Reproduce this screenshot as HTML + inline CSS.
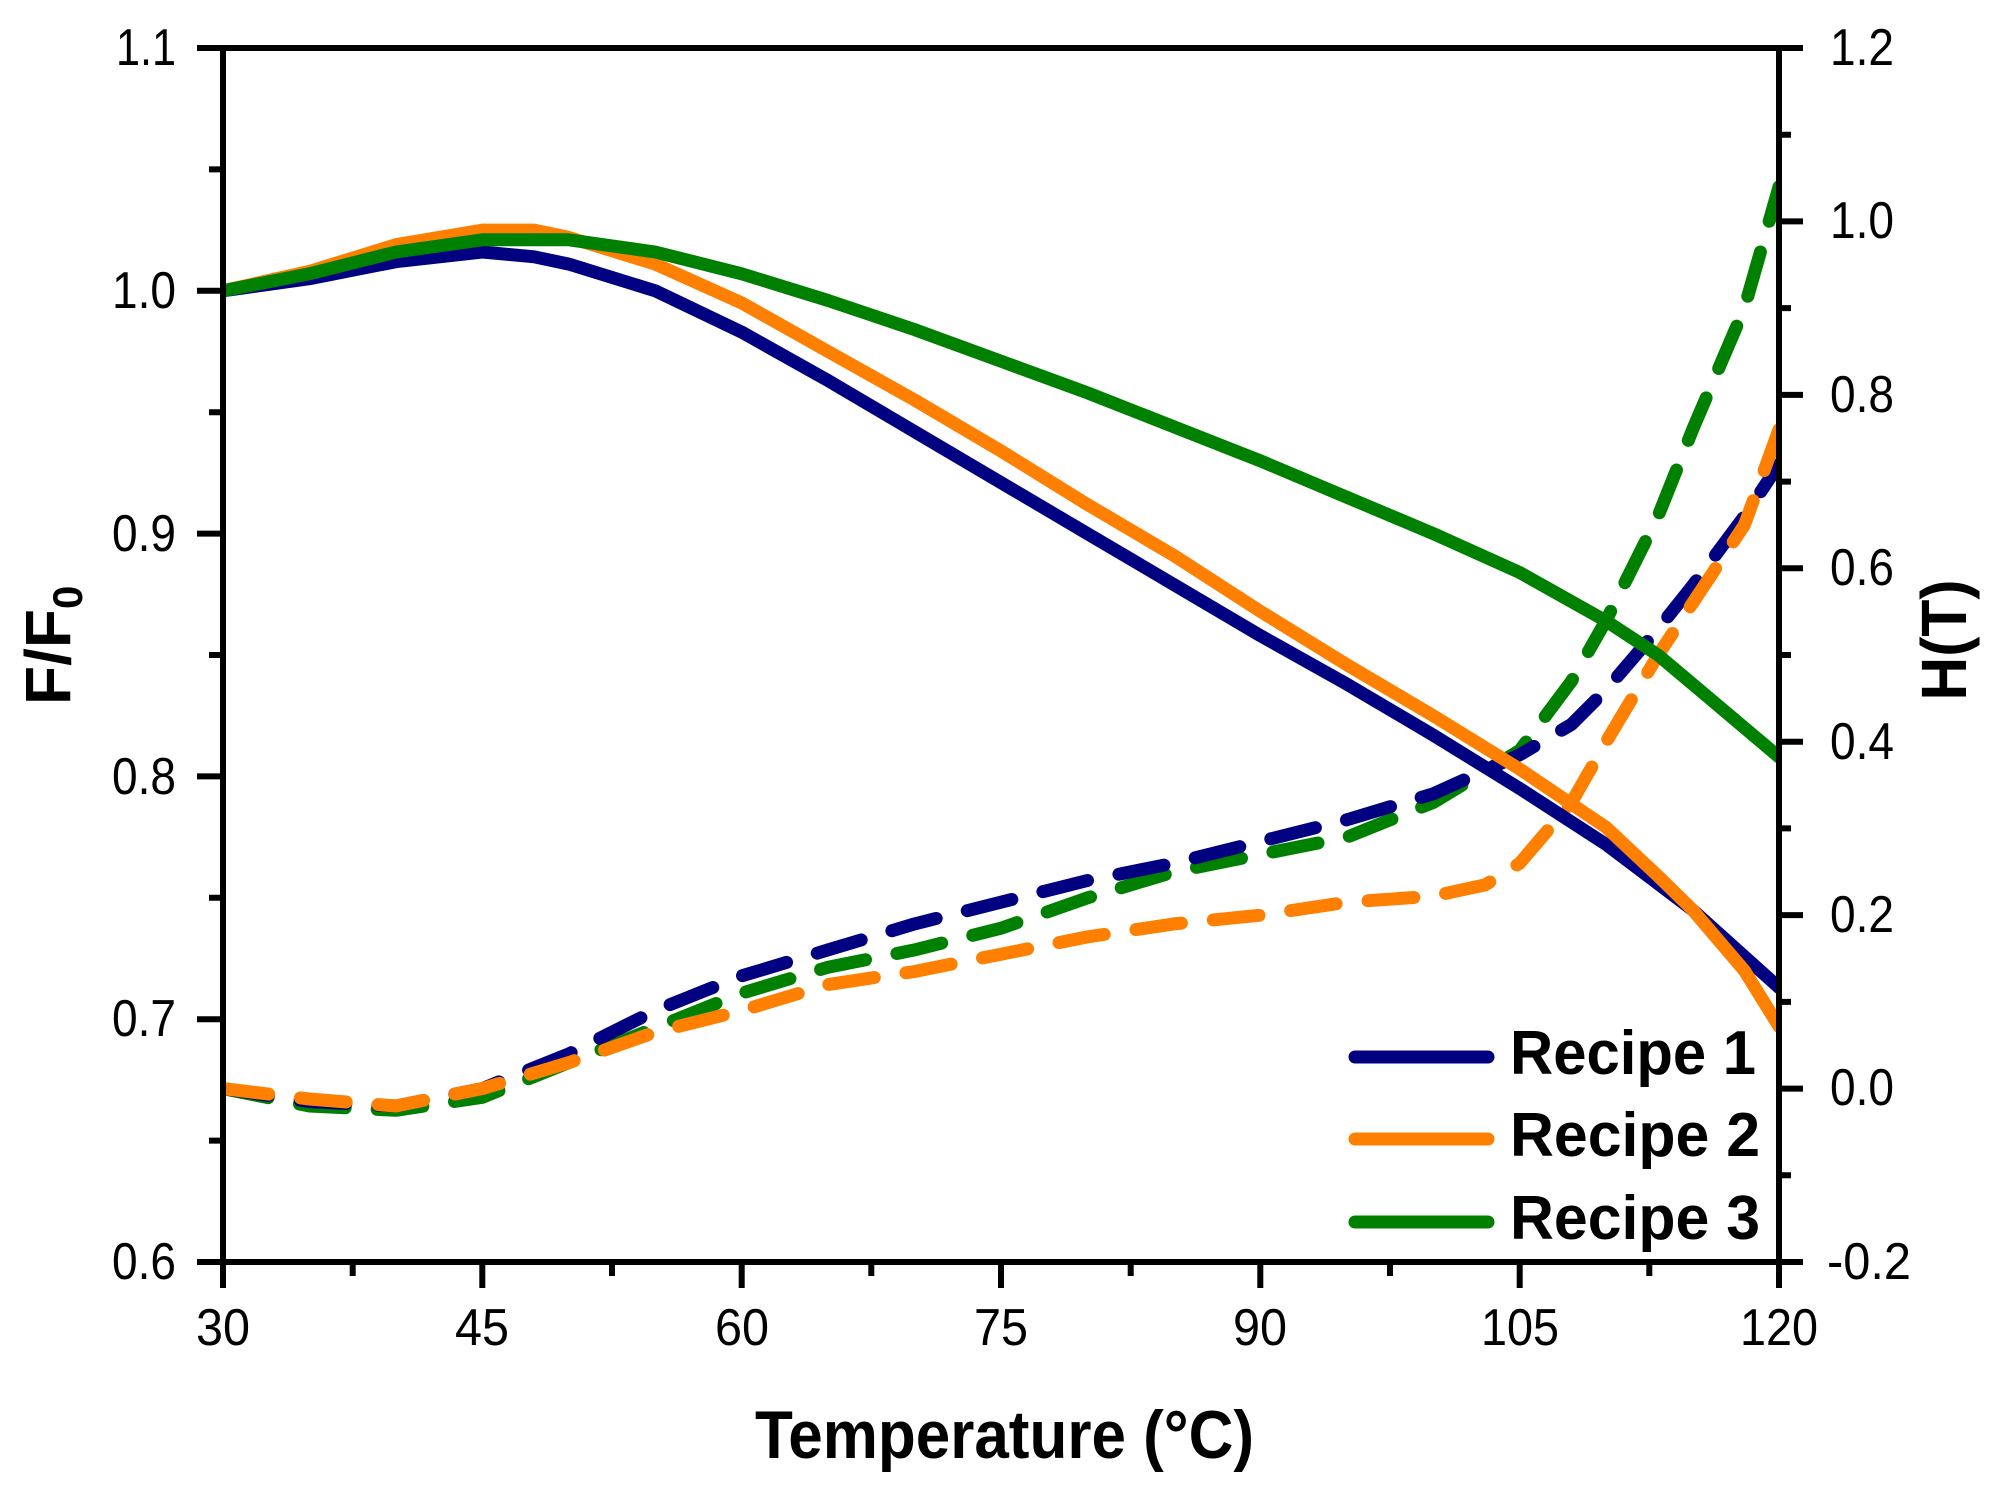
<!DOCTYPE html>
<html><head><meta charset="utf-8"><style>html,body{margin:0;padding:0;background:#fff;}svg{display:block;}</style></head>
<body>
<svg xmlns="http://www.w3.org/2000/svg" width="1997" height="1488" viewBox="0 0 1997 1488" font-family="Liberation Sans, Arial, sans-serif">
<rect width="1997" height="1488" fill="#fff"/>
<defs><clipPath id="c"><rect x="223" y="48" width="1556" height="1214"/></clipPath></defs>
<g clip-path="url(#c)" fill="none" stroke-linecap="round" stroke-linejoin="round" stroke-width="13">
<g stroke-dasharray="46 32">
<polyline stroke="#008000" points="223,1088.6 309.4,1106 395.9,1110.3 482.3,1097.3 568.8,1062.6 655.2,1027.9 741.7,993.2 828.1,967.2 914.6,949.9 1001,928.2 1087.4,897.9 1173.9,871.9 1260.3,854.5 1346.8,837.2 1433.2,802.5 1519.7,750.5 1571.5,681.1 1606.1,620.4 1658,516.3 1692.6,429.6 1744.4,308.2 1779,186.8"/>
<polyline stroke="#000080" points="223,1088.6 309.4,1101.6 395.9,1106 482.3,1088.6 568.8,1053.9 655.2,1010.6 741.7,975.9 828.1,949.9 914.6,923.9 1001,902.2 1087.4,880.5 1173.9,863.2 1260.3,841.5 1346.8,819.8 1433.2,793.8 1519.7,754.8 1571.5,724.4 1606.1,689.7 1658,629.1 1692.6,585.7 1744.4,516.3 1779,464.3"/>
<polyline stroke="#ff8000" points="223,1088.6 309.4,1099 395.9,1106 482.3,1088.6 568.8,1062.6 655.2,1032.2 741.7,1010.6 828.1,984.5 914.6,971.5 1001,954.2 1087.4,936.9 1173.9,923.9 1260.3,915.2 1346.8,902.2 1433.2,896.1 1485.1,884.9 1519.7,863.2 1571.5,802.5 1606.1,741.9 1658,655.2 1692.6,603.1 1744.4,525 1779,429.6"/>
</g>
<polyline stroke="#000080" points="223,290.8 309.4,278.7 395.9,261.7 482.3,252 534.2,256.8 568.8,264.1 655.2,290.8 741.7,332.1 828.1,380.6 914.6,431.6 1001,482.6 1087.4,533.6 1173.9,584.6 1260.3,635.6 1346.8,684.1 1433.2,735.1 1519.7,788.5 1606.1,844.4 1692.6,909.9 1779,987.6"/>
<polyline stroke="#ff8000" points="223,290.8 309.4,271.4 395.9,244.7 482.3,230.1 534.2,230.1 568.8,237.4 655.2,264.1 741.7,302.9 828.1,351.5 914.6,400 1001,451 1087.4,504.5 1173.9,555.5 1260.3,611.3 1346.8,664.7 1433.2,715.7 1519.7,769.1 1606.1,827.4 1658,876 1692.6,909.9 1744.4,970.6 1779,1026.5"/>
<polyline stroke="#008000" points="223,290.8 309.4,273.8 395.9,252 482.3,239.8 568.8,239.8 655.2,252 741.7,273.8 828.1,300.5 914.6,329.6 1001,361.2 1087.4,392.8 1173.9,426.8 1260.3,460.8 1346.8,497.2 1433.2,533.6 1519.7,572.5 1606.1,621 1658,655 1709.9,698.7 1779,757"/>
</g>
<rect x="223" y="48" width="1556" height="1214" stroke="#000" stroke-width="6" fill="none"/>
<g stroke="#000" stroke-width="6">
<path d="M223,1262v26M482.3,1262v26M741.7,1262v26M1001,1262v26M1260.3,1262v26M1519.7,1262v26M1779,1262v26M352.7,1262v14M612,1262v14M871.3,1262v14M1130.7,1262v14M1390,1262v14M1649.3,1262v14"/>
<path d="M223,1262h-26M223,1019.2h-26M223,776.4h-26M223,533.6h-26M223,290.8h-26M223,48h-26M223,1140.6h-14M223,897.8h-14M223,655h-14M223,412.2h-14M223,169.4h-14"/>
<path d="M1779,1262h24M1779,1088.6h24M1779,915.1h24M1779,741.7h24M1779,568.3h24M1779,394.9h24M1779,221.4h24M1779,48h24M1779,1175.3h12M1779,1001.9h12M1779,828.4h12M1779,655h12M1779,481.6h12M1779,308.1h12M1779,134.7h12"/>
</g>
<g font-size="52" fill="#000">
<text x="176" y="65" text-anchor="end" textLength="60" lengthAdjust="spacingAndGlyphs">1.1</text>
<text x="176" y="308" text-anchor="end" textLength="64" lengthAdjust="spacingAndGlyphs">1.0</text>
<text x="176" y="551" text-anchor="end" textLength="64" lengthAdjust="spacingAndGlyphs">0.9</text>
<text x="176" y="794" text-anchor="end" textLength="64" lengthAdjust="spacingAndGlyphs">0.8</text>
<text x="176" y="1036" text-anchor="end" textLength="64" lengthAdjust="spacingAndGlyphs">0.7</text>
<text x="176" y="1279" text-anchor="end" textLength="64" lengthAdjust="spacingAndGlyphs">0.6</text>
<text x="1830" y="65" textLength="64" lengthAdjust="spacingAndGlyphs">1.2</text>
<text x="1830" y="238" textLength="64" lengthAdjust="spacingAndGlyphs">1.0</text>
<text x="1830" y="412" textLength="64" lengthAdjust="spacingAndGlyphs">0.8</text>
<text x="1830" y="585" textLength="64" lengthAdjust="spacingAndGlyphs">0.6</text>
<text x="1830" y="759" textLength="64" lengthAdjust="spacingAndGlyphs">0.4</text>
<text x="1830" y="932" textLength="64" lengthAdjust="spacingAndGlyphs">0.2</text>
<text x="1830" y="1105" textLength="64" lengthAdjust="spacingAndGlyphs">0.0</text>
<text x="1827" y="1279" textLength="84" lengthAdjust="spacingAndGlyphs">-0.2</text>
<text x="223" y="1345" text-anchor="middle" textLength="54" lengthAdjust="spacingAndGlyphs">30</text>
<text x="482" y="1345" text-anchor="middle" textLength="54" lengthAdjust="spacingAndGlyphs">45</text>
<text x="742" y="1345" text-anchor="middle" textLength="54" lengthAdjust="spacingAndGlyphs">60</text>
<text x="1001" y="1345" text-anchor="middle" textLength="54" lengthAdjust="spacingAndGlyphs">75</text>
<text x="1260" y="1345" text-anchor="middle" textLength="54" lengthAdjust="spacingAndGlyphs">90</text>
<text x="1520" y="1345" text-anchor="middle" textLength="78" lengthAdjust="spacingAndGlyphs">105</text>
<text x="1779" y="1345" text-anchor="middle" textLength="78" lengthAdjust="spacingAndGlyphs">120</text>
</g>
<text x="755" y="1458" font-size="68" font-weight="bold" textLength="499" lengthAdjust="spacingAndGlyphs">Temperature (°C)</text>
<text transform="translate(70,705) rotate(-90)" font-size="64" font-weight="bold">F/F<tspan font-size="42" dy="12">0</tspan></text>
<text transform="translate(1966,640) rotate(-90)" text-anchor="middle" font-size="64" font-weight="bold" textLength="121" lengthAdjust="spacingAndGlyphs">H(T)</text>
<g stroke-width="13" stroke-linecap="round">
<line x1="1355" y1="1057" x2="1488" y2="1057" stroke="#000080"/>
<line x1="1355" y1="1139" x2="1488" y2="1139" stroke="#ff8000"/>
<line x1="1355" y1="1222" x2="1488" y2="1222" stroke="#008000"/>
</g>
<g font-size="62" font-weight="bold">
<text x="1510" y="1074" textLength="246" lengthAdjust="spacingAndGlyphs">Recipe 1</text>
<text x="1510" y="1156" textLength="250" lengthAdjust="spacingAndGlyphs">Recipe 2</text>
<text x="1510" y="1239" textLength="250" lengthAdjust="spacingAndGlyphs">Recipe 3</text>
</g>
</svg>
</body></html>
